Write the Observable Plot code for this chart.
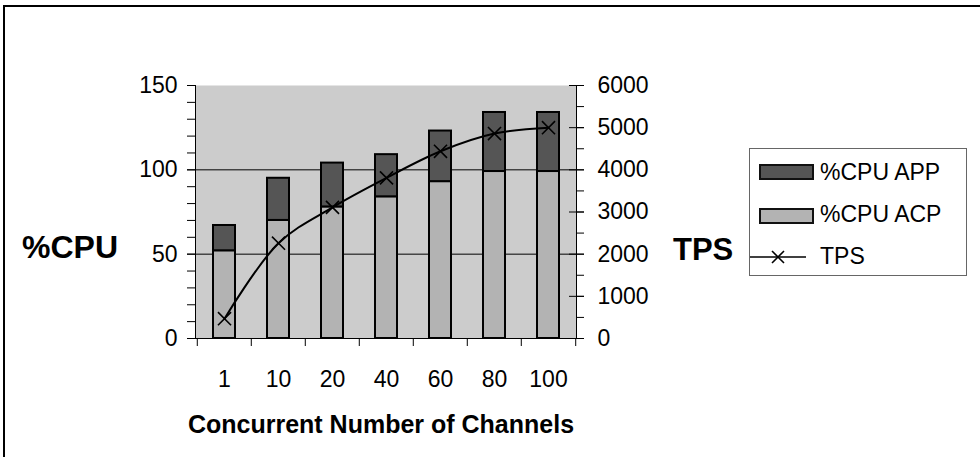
<!DOCTYPE html>
<html>
<head>
<meta charset="utf-8">
<script src="https://cdn.jsdelivr.net/npm/d3@7"></script>
<script src="https://cdn.jsdelivr.net/npm/@observablehq/plot@0.6"></script>
<style>
  html, body { margin: 0; padding: 0; background: #fff; }
  #wrap { position: relative; width: 980px; height: 457px; overflow: hidden; font-family: "Liberation Sans", Arial, sans-serif; color: #000; }
  #wrap svg { position: absolute; left: 0; top: 0; }
  .outer { position: absolute; left: 3px; top: 5px; width: 1000px; height: 480px; border-top: 2px solid #000; border-left: 2px solid #000; box-sizing: border-box; }
  .lab { position: absolute; font-weight: bold; white-space: nowrap; line-height: 1; }
  .legend { position: absolute; left: 749px; top: 148px; width: 218px; height: 128px; border: 1px solid #666; box-sizing: border-box; background: #fff; }
  .sw { position: absolute; left: 9px; width: 55px; height: 16px; box-sizing: border-box; border: 2px solid #111; }
  .lt { position: absolute; left: 70px; font-size: 23px; line-height: 1; white-space: nowrap; }
  .legend svg { position: absolute; left: 8px; }
</style>
</head>
<body>
<div id="wrap">
  <div class="outer"></div>
</div>
<script>
// ---- data ----
const channels = ["1", "10", "20", "40", "60", "80", "100"];
const cpuACP = [52, 70, 78, 84, 93, 99, 99];
const cpuAPP = [15, 25, 26, 25, 30, 35, 35];
const tps = [470, 2260, 3110, 3810, 4440, 4860, 5000];
const seriesNames = ["%CPU ACP", "%CPU APP"];
const seriesColors = ["#b3b3b3", "#555555"];
const cpuTicks = [0, 50, 100, 150];
const cpuMinorTicks = [0, 10, 20, 30, 40, 50, 60, 70, 80, 90, 100, 110, 120, 130, 140, 150];
const cpuGrid = [50, 100];
const tpsTicks = [0, 1000, 2000, 3000, 4000, 5000, 6000];
const tpsMinorTicks = [0, 500, 1000, 1500, 2000, 2500, 3000, 3500, 4000, 4500, 5000, 5500, 6000];

// ---- layout ----
const W = 980, H = 457;
const M = {top: 85, right: 404, bottom: 119, left: 195};
const step = (W - M.left - M.right) / channels.length;
const font = "'Liberation Sans', Arial, sans-serif";

const cpuRows = channels.flatMap((ch, i) => [
  {ch, series: seriesNames[0], value: cpuACP[i]},
  {ch, series: seriesNames[1], value: cpuAPP[i]}
]);
const tpsRows = channels.map((ch, i) => ({ch, tps: tps[i]}));

const common = {
  width: W, height: H,
  marginTop: M.top, marginRight: M.right, marginBottom: M.bottom, marginLeft: M.left,
  x: {type: "band", domain: channels, paddingInner: 0.595, paddingOuter: 0.2975}
};

const cpuChart = Plot.plot({
  ...common,
  style: {fontFamily: font, fontSize: "23px", color: "#000", background: "transparent", overflow: "visible"},
  y: {domain: [0, 150]},
  color: {domain: seriesNames, range: seriesColors},
  marks: [
    Plot.frame({fill: "#cccccc", stroke: null}),
    Plot.ruleY(cpuGrid, {stroke: "#000", strokeWidth: 1}),
    Plot.barY(cpuRows, {x: "ch", y: "value", fill: "series", stroke: "#000", strokeWidth: 2}),
    Plot.axisY(cpuMinorTicks, {tickSize: 8, tickFormat: () => "", label: null, stroke: "#000"}),
    Plot.axisY(cpuTicks, {tickSize: 8, tickPadding: 10, fontSize: 23, label: null, stroke: "#000", tickFormat: d => String(d)}),
    Plot.axisX({tickSize: 0, tickPadding: 32, fontSize: 23, label: null}),
    Plot.ruleX(channels, {x: d => d, y1: 0, y2: 0, dx: -step / 2, insetBottom: -8, stroke: "#000"}),
    Plot.ruleX(channels.slice(-1), {x: d => d, y1: 0, y2: 0, dx: step / 2, insetBottom: -8, stroke: "#000"}),
    Plot.frame({anchor: "left", stroke: "#000"}),
    Plot.frame({anchor: "bottom", stroke: "#000"})
  ]
});

const tpsChart = Plot.plot({
  ...common,
  x: {...common.x, axis: null},
  style: {fontFamily: font, fontSize: "23px", color: "#000", background: "transparent", overflow: "visible"},
  y: {domain: [0, 6000]},
  marks: [
    Plot.axisY(tpsMinorTicks, {anchor: "right", tickSize: 7, tickFormat: () => "", label: null, stroke: "#000"}),
    Plot.axisY(tpsTicks, {anchor: "right", tickSize: 15, dx: -8, tickFormat: () => "", label: null, stroke: "#000"}),
    Plot.axisY(tpsTicks, {anchor: "right", tickSize: 0, tickPadding: 21, fontSize: 23, label: null, tickFormat: d => String(d)}),
    Plot.frame({anchor: "right", stroke: "#000"}),
    Plot.line(tpsRows, {x: "ch", y: "tps", curve: "catmull-rom", stroke: "#000", strokeWidth: 2}),
    Plot.dot(tpsRows, {x: "ch", y: "tps", symbol: "times", r: 6, stroke: "#000", strokeWidth: 1.6})
  ]
});

const wrap = document.getElementById("wrap");
wrap.appendChild(cpuChart);
wrap.appendChild(tpsChart);

// ---- titles ----
function addLabel(text, size, left, top, center) {
  const d = document.createElement("div");
  d.className = "lab";
  d.textContent = text;
  d.style.fontSize = size + "px";
  d.style.left = left + "px";
  d.style.top = top + "px";
  if (center) d.style.transform = "translateX(-50%)";
  wrap.appendChild(d);
}
addLabel("%CPU", 32, 22, 231, false);
addLabel("TPS", 31, 673, 234, false);
addLabel("Concurrent Number of Channels", 25, 381, 412, true);

// ---- legend ----
const leg = document.createElement("div");
leg.className = "legend";
const legendItems = [
  {name: seriesNames[1], color: seriesColors[1], swTop: 15, textTop: 12},
  {name: seriesNames[0], color: seriesColors[0], swTop: 59, textTop: 54},
  {name: "TPS", line: true, swTop: 108, textTop: 96}
];
legendItems.forEach(it => {
  if (it.line) {
    const s = d3.create("svg").attr("width", 58).attr("height", 16).style("top", (it.swTop - 8) + "px");
    s.append("line").attr("x1", 0).attr("x2", 56).attr("y1", 8).attr("y2", 8).attr("stroke", "#000").attr("stroke-width", 1.5);
    s.append("path").attr("d", "M22,2L34,14M22,14L34,2").attr("stroke", "#000").attr("stroke-width", 1.6);
    leg.appendChild(s.node());
  } else {
    const sw = document.createElement("div");
    sw.className = "sw";
    sw.style.top = it.swTop + "px";
    sw.style.background = it.color;
    leg.appendChild(sw);
  }
  const t = document.createElement("div");
  t.className = "lt";
  t.style.top = it.textTop + "px";
  t.textContent = it.name;
  leg.appendChild(t);
});
wrap.appendChild(leg);
</script>
</body>
</html>
